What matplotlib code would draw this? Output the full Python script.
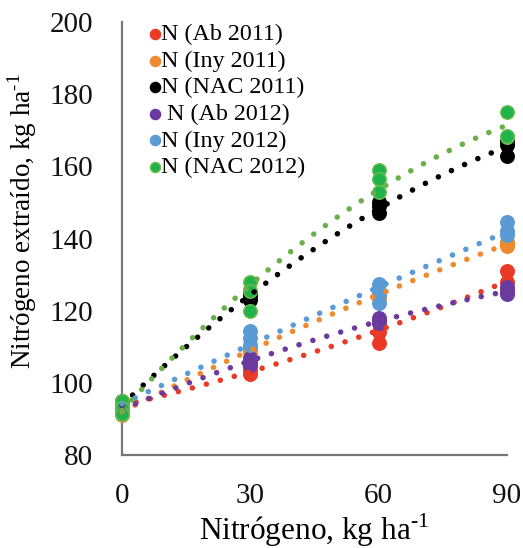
import numpy as np
import matplotlib
matplotlib.use("Agg")
import matplotlib.pyplot as plt

plt.rcParams['font.family'] = ['Liberation Serif', 'DejaVu Serif']
plt.rcParams['mathtext.fontset'] = 'custom'
plt.rcParams['mathtext.rm'] = 'Liberation Serif'

dose = [0, 0, 0, 30, 30, 30, 60, 60, 60, 90, 90, 90]

ab_2011 = [94.5, 93.5, 92.5, 105, 103.5, 102.5, 117, 114, 111, 131, 128, 126]
iny_2011 = [91, 92, 93, 109, 110, 108.5, 125, 124.5, 123.5, 138.5, 139, 138]
nac_2011 = [93, 94, 95, 124, 123, 125, 150, 147, 149, 166, 163, 167]
ab_2012 = [92, 92.5, 93.5, 107, 106, 105, 118, 117, 116.5, 126.5, 125, 124.5]
iny_2012 = [93.5, 94.5, 92.5, 114.5, 112.5, 110.5, 127.5, 124.5, 122, 144.5, 142, 141]
nac_2012 = [95, 93, 91.5, 128, 125.5, 120, 159, 156.5, 153, 175, 168, 168.5]

labels = ["N (Ab 2011)", "N (Iny 2011)", "N (NAC 2011)",
          " N (Ab 2012)", "N (Iny 2012)", "N (NAC 2012)"]
series = [ab_2011, iny_2011, nac_2011, ab_2012, iny_2012, nac_2012]
face = ['#EA3A26', '#F08A2E', '#000000', '#6A3A9E', '#5B9BD5', '#22B24C']
edge = ['#EA3A26', '#F08A2E', '#000000', '#6A3A9E', '#5B9BD5', '#6DBE4B']
trend = ['#EA3A26', '#F08A2E', '#000000', '#6A3A9E', '#5B9BD5', '#6AB04A']

xticks = [0, 30, 60, 90]
yticks = [80, 100, 120, 140, 160, 180, 200]

fig = plt.figure(figsize=(5.23, 5.48), dpi=100)
ax = fig.add_axes([0.2333, 0.1697, 0.7361, 0.7901])

handles = []
for vals, lab, fc, ec in zip(series, labels, face, edge):
    h = ax.scatter(dose, vals, s=95, color=fc, edgecolors=ec, linewidths=1.0,
                   zorder=3, clip_on=False, label=lab)
    handles.append(h)

xs = np.linspace(0, 90, 200)
for vals, col in zip(series, trend):
    c = np.polyfit(dose, vals, 2)
    ax.plot(xs, np.polyval(c, xs), color=col, lw=4.0,
            linestyle=(0, (0.01, 2.6)), dash_capstyle='round', zorder=4,
            clip_on=False)

ax.set_xlim(0, 90)
ax.set_ylim(80, 200)
ax.set_xticks(xticks)
ax.set_yticks(yticks)
ax.tick_params(length=0, labelsize=21, colors='#111111')
ax.tick_params(axis='x', pad=20)
ax.tick_params(axis='y', pad=21)
for s in ['top', 'right']:
    ax.spines[s].set_visible(False)
for s in ['left', 'bottom']:
    ax.spines[s].set_color('#777777')
    ax.spines[s].set_linewidth(1.6)

ax.set_xlabel("Nitrógeno, kg ha$^{\\mathregular{\u2010}1}$", fontsize=22.5, labelpad=2)
ax.set_ylabel("Nitrógeno extraído, kg ha$^{\\mathregular{\u2010}1}$", fontsize=19.5)
ax.yaxis.set_label_coords(-0.215, 0.54)

leg = ax.legend(handles=handles, loc='upper left', bbox_to_anchor=(0.012, 1.03),
                frameon=False, fontsize=17.3, handletextpad=-0.35,
                labelspacing=0.2, markerscale=0.75, borderaxespad=0.2,
                handlelength=1.2)

fig.savefig("out.png", dpi=100)
